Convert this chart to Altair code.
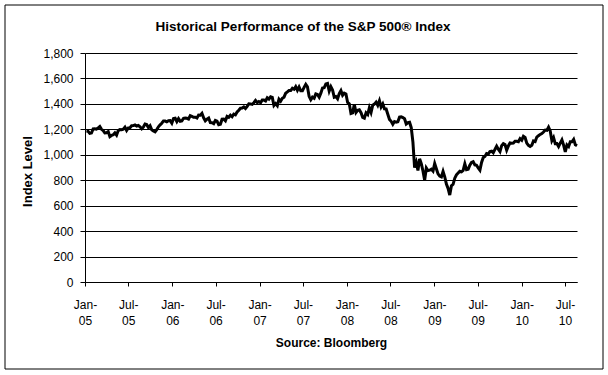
import altair as alt
import pandas as pd

# Weekly (Friday) index levels
v2005 = [1186, 1184, 1168, 1171, 1203, 1205, 1201, 1211, 1222, 1200, 1190, 1172, 1173,
         1182, 1143, 1152, 1157, 1172, 1154, 1190, 1198, 1197, 1201, 1217, 1191, 1211,
         1212, 1228, 1229, 1234, 1226, 1230, 1220, 1205, 1218, 1241, 1237, 1215, 1229,
         1196, 1187, 1180, 1198, 1220, 1235, 1248, 1266, 1265, 1259, 1267, 1268, 1248]
v2006 = [1285, 1287, 1261, 1284, 1264, 1267, 1287, 1289, 1287, 1281, 1307, 1302, 1295,
         1295, 1289, 1312, 1311, 1326, 1291, 1267, 1280, 1289, 1253, 1252, 1245, 1270,
         1265, 1236, 1240, 1279, 1280, 1267, 1302, 1295, 1311, 1299, 1320, 1314, 1336,
         1350, 1366, 1368, 1377, 1364, 1380, 1401, 1400, 1396, 1409, 1427, 1410, 1418]
v2007 = [1409, 1431, 1430, 1423, 1448, 1438, 1456, 1451, 1387, 1402, 1386, 1437, 1421,
         1444, 1453, 1484, 1494, 1505, 1505, 1523, 1515, 1536, 1507, 1533, 1503, 1503,
         1530, 1553, 1534, 1459, 1433, 1453, 1445, 1479, 1474, 1453, 1484, 1525, 1527,
         1557, 1561, 1501, 1535, 1509, 1453, 1458, 1440, 1481, 1504, 1468, 1484, 1478]
v2008 = [1411, 1401, 1325, 1330, 1396, 1332, 1349, 1353, 1331, 1294, 1288, 1330, 1316,
         1370, 1333, 1390, 1398, 1414, 1389, 1425, 1376, 1400, 1361, 1360, 1318, 1278,
         1263, 1240, 1261, 1257, 1260, 1296, 1298, 1292, 1283, 1242, 1252, 1255, 1213,
         1099, 899, 940, 877, 968, 930, 873, 800, 896, 876, 879, 887, 872]
v2009 = [931, 890, 850, 832, 826, 869, 827, 770, 735, 683, 756, 768, 816,
         843, 857, 870, 866, 877, 929, 883, 887, 919, 940, 946, 921, 918,
         896, 879, 940, 979, 987, 1010, 1005, 1026, 1029, 1016, 1042, 1068, 1044,
         1025, 1072, 1087, 1080, 1036, 1069, 1093, 1091, 1092, 1106, 1106, 1102, 1127, 1115]
v2010 = [1145, 1136, 1092, 1074, 1066, 1075, 1109, 1104, 1139, 1150, 1160, 1167, 1179,
         1194, 1192, 1217, 1187, 1111, 1136, 1088, 1089, 1065, 1092, 1117, 1076, 1023,
         1078, 1065, 1102, 1102, 1121, 1079, 1071]

levels = v2005 + v2006 + v2007 + v2008 + v2009 + v2010
dates = pd.date_range("2005-01-07", periods=len(levels), freq="W-FRI")
df = pd.DataFrame({"date": dates.strftime("%Y-%m-%d"), "level": levels})

y_ticks = [0, 200, 400, 600, 800, 1000, 1200, 1400, 1600, 1800]
x_ticks = [alt.DateTime(year=y, month=m, date=1) for y in range(2005, 2011) for m in (1, 7)]

FONT = "Liberation Sans"

line = alt.Chart(df).mark_line(color="black", strokeWidth=3).encode(
    x=alt.X(
        "date:T",
        scale=alt.Scale(domain=[alt.DateTime(year=2005, month=1, date=1),
                                alt.DateTime(year=2010, month=8, date=20)]),
        axis=alt.Axis(
            values=x_ticks,
            labelExpr="[timeFormat(datum.value, '%b-'), timeFormat(datum.value, '%y')]",
            grid=False, tickSize=4, tickColor="black", domainColor="black",
            labelFont=FONT, labelFontSize=12, labelColor="black",
            labelLineHeight=16, labelPadding=13, labelBaseline="top",
            labelAlign="center", labelFlush=False,
            title="Source: Bloomberg", titleFont=FONT, titleFontSize=12,
            titleFontWeight="bold", titleColor="black",
            titleX=246, titleY=60, titleBaseline="middle", titleAlign="center",
        ),
    ),
    y=alt.Y(
        "level:Q",
        scale=alt.Scale(domain=[0, 1800], nice=False),
        axis=alt.Axis(
            values=y_ticks,
            labelExpr="format(datum.value, ',.0f')",
            grid=True, gridColor="black", gridWidth=1,
            tickSize=5, tickColor="black", domainColor="black",
            labelFont=FONT, labelFontSize=12, labelColor="black", labelPadding=7,
            title="Index Level", titleFont=FONT, titleFontSize=13,
            titleFontWeight="bold", titleColor="black",
            titleX=-58, titleY=118, titleAngle=-90,
            titleBaseline="middle", titleAlign="center",
        ),
    ),
)

border = alt.Chart(alt.Data(values=[{}])).mark_rect(
    fill="transparent", stroke="black", strokeWidth=1
).encode(
    x=alt.value(-80), x2=alt.value(518), y=alt.value(-48), y2=alt.value(316)
)

chart = alt.layer(line, border).properties(
    width=492,
    height=229,
    autosize=alt.AutoSizeParams(type="none"),
    padding={"left": 85, "top": 53, "right": 31, "bottom": 93},
    background="white",
    title=alt.TitleParams(
        text="Historical Performance of the S&P 500® Index",
        font=FONT, fontSize=13.5, fontWeight="bold", color="black",
        anchor="middle", dx=-28, offset=-29,
    ),
).configure_view(stroke="transparent")

chart.save("out.html", embed_options={"renderer": "svg", "actions": False})
